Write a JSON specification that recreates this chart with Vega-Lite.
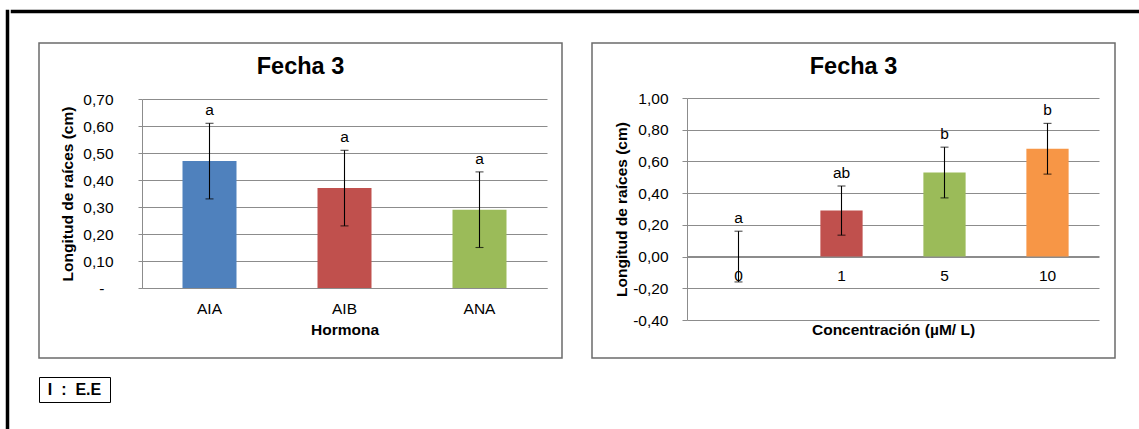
{
  "$schema": "https://vega.github.io/schema/vega-lite/v6.json",
  "padding": {"left": 5, "top": 9, "right": 0, "bottom": 0},
  "background": "white",
  "config": {
    "font": "Liberation Sans",
    "view": {"stroke": "#6b6b6b", "strokeWidth": 1.5}
  },
  "spacing": 0,
  "hconcat": [
    {
      "width": 1,
      "height": 440,
      "view": {"stroke": "#000", "strokeWidth": 2.5, "fill": "#000"},
      "data": {"values": []},
      "mark": "point"
    },
    {
      "spacing": 28,
      "vconcat": [
        {
          "width": 1140,
          "height": 1,
          "view": {"stroke": "#000", "strokeWidth": 2.5, "fill": "#000"},
          "data": {"values": []},
          "mark": "point"
        },
        {
          "spacing": 0,
          "hconcat": [
            {
              "width": 26,
              "height": 1,
              "view": {"stroke": null},
              "data": {"values": []},
              "mark": "point"
            },
            {
              "spacing": 17,
              "vconcat": [
                {
                  "spacing": 28,
                  "resolve": {"scale": {"color": "independent"}},
                  "hconcat": [
                    {
                      "width": 523,
                      "height": 315,
                      "title": {"text": "Fecha 3", "fontSize": 23.5, "fontWeight": "bold", "color": "#000", "offset": -35, "anchor": "middle", "frame": "group"},
                      "data": {"values": [
                        {"hormona": "AIA", "media": 0.47, "lo": 0.33, "hi": 0.61, "letra": "a"},
                        {"hormona": "AIB", "media": 0.37, "lo": 0.23, "hi": 0.51, "letra": "a"},
                        {"hormona": "ANA", "media": 0.29, "lo": 0.15, "hi": 0.43, "letra": "a"}
                      ]},
                      "encoding": {
                        "x": {
                          "field": "hormona", "type": "nominal", "sort": ["AIA", "AIB", "ANA"],
                          "scale": {"range": [103, 508], "paddingInner": 0.6, "paddingOuter": 0.3},
                          "axis": {
                            "title": "Hormona", "offset": -70, "ticks": false, "labelPadding": 13, "labelAngle": 0,
                            "labelFontSize": 15.5, "labelColor": "#000", "domainColor": "#8c8c8c",
                            "titleFontSize": 15.5, "titleFontWeight": "bold", "titleColor": "#000",
                            "titleY": 46, "titleBaseline": "alphabetic", "grid": false
                          }
                        }
                      },
                      "layer": [
                        {
                          "mark": {"type": "bar"},
                          "encoding": {
                            "y": {
                              "field": "media", "type": "quantitative", "title": "Longitud de raíces (cm)",
                              "scale": {"domain": [0, 0.7], "range": [245, 56], "nice": false},
                              "axis": {
                                "values": [0, 0.1, 0.2, 0.3, 0.4, 0.5, 0.6, 0.7],
                                "labelExpr": "datum.value == 0 ? '-' : replace(format(datum.value, '.2f'), '.', ',')",
                                "labelPadding": {"condition": {"test": "datum.value == 0", "value": 34}, "value": 25},
                                "offset": -103, "grid": true, "gridColor": "#8c8c8c", "domainColor": "#8c8c8c",
                                "tickColor": "#8c8c8c", "tickSize": 4, "labelFontSize": 15.5,
                                "labelColor": "#000", "titleFontSize": 15.5, "titleFontWeight": "bold", "titleColor": "#000",
                                "titleX": -75, "titleBaseline": "middle"
                              }
                            },
                            "color": {
                              "field": "hormona", "type": "nominal", "legend": null,
                              "scale": {"domain": ["AIA", "AIB", "ANA"], "range": ["#4F81BD", "#C0504D", "#9BBB59"]}
                            }
                          }
                        },
                        {
                          "mark": {"type": "rule", "color": "#000", "strokeWidth": 1.1},
                          "encoding": {
                            "y": {"field": "lo", "type": "quantitative", "title": "Longitud de raíces (cm)"},
                            "y2": {"field": "hi"}
                          }
                        },
                        {
                          "mark": {"type": "tick", "color": "#000", "size": 8, "thickness": 1.1},
                          "encoding": {"y": {"field": "lo", "type": "quantitative", "title": "Longitud de raíces (cm)"}}
                        },
                        {
                          "mark": {"type": "tick", "color": "#000", "size": 8, "thickness": 1.1},
                          "encoding": {"y": {"field": "hi", "type": "quantitative", "title": "Longitud de raíces (cm)"}}
                        },
                        {
                          "mark": {"type": "text", "dy": -8, "baseline": "alphabetic", "fontSize": 15.5, "color": "#000"},
                          "encoding": {
                            "y": {"field": "hi", "type": "quantitative", "title": "Longitud de raíces (cm)"},
                            "text": {"field": "letra"}
                          }
                        }
                      ]
                    },
                    {
                      "width": 523,
                      "height": 315,
                      "title": {"text": "Fecha 3", "fontSize": 23.5, "fontWeight": "bold", "color": "#000", "offset": -35, "anchor": "middle", "frame": "group"},
                      "data": {"values": [
                        {"conc": "0", "media": 0.0, "lo": -0.16, "hi": 0.16, "letra": "a"},
                        {"conc": "1", "media": 0.29, "lo": 0.135, "hi": 0.445, "letra": "ab"},
                        {"conc": "5", "media": 0.53, "lo": 0.37, "hi": 0.69, "letra": "b"},
                        {"conc": "10", "media": 0.68, "lo": 0.52, "hi": 0.84, "letra": "b"}
                      ]},
                      "encoding": {
                        "x": {
                          "field": "conc", "type": "nominal", "sort": ["0", "1", "5", "10"],
                          "scale": {"range": [95, 507], "paddingInner": 0.59, "paddingOuter": 0.295},
                          "axis": {
                            "title": "Concentración (µM/ L)", "offset": -102, "ticks": false, "labelPadding": 12, "labelAngle": 0,
                            "labelFontSize": 15.5, "labelColor": "#000", "domainColor": "#8c8c8c",
                            "titleFontSize": 15.5, "titleFontWeight": "bold", "titleColor": "#000",
                            "titleY": 78, "titleBaseline": "alphabetic", "grid": false
                          }
                        }
                      },
                      "layer": [
                        {
                          "mark": {"type": "bar"},
                          "encoding": {
                            "y": {
                              "field": "media", "type": "quantitative", "title": "Longitud de raíces (cm)",
                              "scale": {"domain": [-0.4, 1.0], "range": [277, 55], "nice": false},
                              "axis": {
                                "values": [-0.4, -0.2, 0, 0.2, 0.4, 0.6, 0.8, 1.0],
                                "labelExpr": "replace(replace(format(datum.value, '.2f'), '.', ','), '\u2212', '-')",
                                "offset": -95, "grid": true, "gridColor": "#8c8c8c", "domainColor": "#8c8c8c",
                                "tickColor": "#8c8c8c", "tickSize": 5, "labelPadding": 14, "labelFontSize": 15.5,
                                "labelColor": "#000", "titleFontSize": 15.5, "titleFontWeight": "bold", "titleColor": "#000",
                                "titleX": -66, "titleBaseline": "middle"
                              }
                            },
                            "color": {
                              "field": "conc", "type": "nominal", "legend": null,
                              "scale": {"domain": ["0", "1", "5", "10"], "range": ["#4F81BD", "#C0504D", "#9BBB59", "#F79646"]}
                            }
                          }
                        },
                        {
                          "mark": {"type": "rule", "color": "#000", "strokeWidth": 1.1},
                          "encoding": {
                            "y": {"field": "lo", "type": "quantitative", "title": "Longitud de raíces (cm)"},
                            "y2": {"field": "hi"}
                          }
                        },
                        {
                          "mark": {"type": "tick", "color": "#000", "size": 8, "thickness": 1.1},
                          "encoding": {"y": {"field": "lo", "type": "quantitative", "title": "Longitud de raíces (cm)"}}
                        },
                        {
                          "mark": {"type": "tick", "color": "#000", "size": 8, "thickness": 1.1},
                          "encoding": {"y": {"field": "hi", "type": "quantitative", "title": "Longitud de raíces (cm)"}}
                        },
                        {
                          "mark": {"type": "text", "dy": -8, "baseline": "alphabetic", "fontSize": 15.5, "color": "#000"},
                          "encoding": {
                            "y": {"field": "hi", "type": "quantitative", "title": "Longitud de raíces (cm)"},
                            "text": {"field": "letra"}
                          }
                        }
                      ]
                    }
                  ]
                },
                {
                  "width": 71,
                  "height": 25,
                  "view": {"stroke": "#000", "strokeWidth": 1},
                  "data": {"values": [{"t": "I\u00a0\u00a0:\u00a0\u00a0E.E"}]},
                  "mark": {"type": "text", "fontSize": 16, "fontWeight": "bold", "color": "#000"},
                  "encoding": {"text": {"field": "t"}}
                }
              ]
            }
          ]
        }
      ]
    }
  ]
}
